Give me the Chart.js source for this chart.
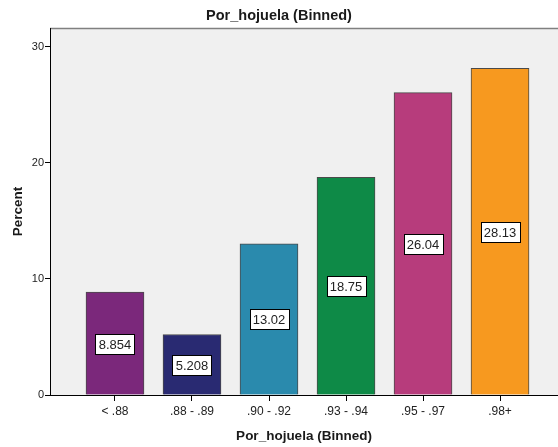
<!DOCTYPE html>
<html>
<head>
<meta charset="utf-8">
<script src="https://cdn.jsdelivr.net/npm/chart.js@4/dist/chart.umd.min.js"></script>
<style>
  html, body { margin: 0; padding: 0; background: #fff; }
  #wrap { width: 558px; height: 447px; }
</style>
</head>
<body>
<div id="wrap"><canvas id="chart"></canvas></div>
<script>
// Por_hojuela binned percentages
const categories = ['< .88', '.88 - .89', '.90 - .92', '.93 - .94', '.95 - .97', '.98+'];
const percents = [8.854, 5.208, 13.02, 18.75, 26.04, 28.13];
const barColors = ['#7b287b', '#292a72', '#2a8aad', '#0e8a47', '#b73c7c', '#f7991f'];
const yTicks = [0, 10, 20, 30];

const FONT = 'Arial, "Liberation Sans", sans-serif';

// plot background + top frame line
const plotBg = {
    id: 'plotBg',
    beforeDraw(chart) {
        const { ctx, chartArea: a } = chart;
        ctx.save();
        ctx.fillStyle = '#f0f0f0';
        ctx.fillRect(a.left, a.top, a.right - a.left, a.bottom - a.top);
        ctx.strokeStyle = '#808080';
        ctx.lineWidth = 1.5;
        ctx.beginPath();
        ctx.moveTo(a.left, a.top + 0.5);
        ctx.lineTo(a.right, a.top + 0.5);
        ctx.stroke();
        ctx.restore();
    }
};

// boxed value labels in the middle of each bar
const valueBoxes = {
    id: 'valueBoxes',
    afterDatasetsDraw(chart) {
        const { ctx } = chart;
        const yScale = chart.scales.y;
        const meta = chart.getDatasetMeta(0);
        ctx.save();
        ctx.font = '13px ' + FONT;
        ctx.textAlign = 'center';
        ctx.textBaseline = 'middle';
        meta.data.forEach((bar, i) => {
            const v = percents[i];
            const txt = v.toPrecision(4);
            const cy = Math.round(yScale.getPixelForValue(v / 2));
            const w = Math.round(ctx.measureText(txt).width) + 6;
            const h = 20;
            const x0 = Math.round(bar.x - w / 2) + 0.5;
            const y0 = cy - h / 2 + 0.5;
            ctx.fillStyle = '#fff';
            ctx.fillRect(x0, y0, w, h);
            ctx.strokeStyle = '#000';
            ctx.lineWidth = 1;
            ctx.strokeRect(x0, y0, w, h);
            ctx.fillStyle = '#222';
            ctx.fillText(txt, bar.x, cy + 1);
        });
        ctx.restore();
    }
};

new Chart(document.getElementById('chart'), {
    type: 'bar',
    data: {
        datasets: [{
            data: percents.map((v, i) => ({ x: i, y: v })),
            backgroundColor: barColors,
            borderColor: '#4a4a4a',
            borderWidth: 1,
            barThickness: 58
        }]
    },
    options: {
        responsive: true,
        maintainAspectRatio: false,
        animation: false,
        events: [],
        layout: { padding: { left: 0, right: 0, top: 0, bottom: 0 } },
        plugins: {
            legend: { display: false },
            tooltip: { enabled: false },
            title: {
                display: true,
                text: 'Por_hojuela (Binned)',
                color: '#1a1a1a',
                font: { family: FONT, size: 14.5, weight: 'bold' },
                padding: { top: 7.6, bottom: 3 }
            }
        },
        scales: {
            x: {
                type: 'linear',
                offset: false,
                min: -0.844,
                max: 5.753,
                afterBuildTicks(scale) {
                    scale.ticks = categories.map((c, i) => ({ value: i }));
                },
                afterFit(scale) { scale.height = 52; },
                grid: { offset: false, drawOnChartArea: false, drawTicks: true, tickLength: 6, tickColor: '#000' },
                border: { display: true, color: '#000', width: 1 },
                ticks: {
                    autoSkip: false,
                    maxRotation: 0,
                    padding: 3,
                    color: '#222',
                    font: { family: FONT, size: 12 },
                    callback: (v) => categories[v]
                },
                title: {
                    display: true,
                    text: 'Por_hojuela (Binned)',
                    color: '#1a1a1a',
                    font: { family: FONT, size: 13.5, weight: 'bold' },
                    padding: { top: 0, bottom: 3 }
                }
            },
            y: {
                min: 0,
                max: 31.6,
                afterBuildTicks(scale) {
                    scale.ticks = yTicks.map(v => ({ value: v }));
                },
                afterFit(scale) { scale.width = 50; },
                grid: { drawOnChartArea: false, drawTicks: true, tickLength: 5, tickColor: '#000' },
                border: { display: true, color: '#000', width: 1 },
                ticks: {
                    padding: 1,
                    color: '#222',
                    font: { family: FONT, size: 11 }
                },
                title: {
                    display: true,
                    text: 'Percent',
                    color: '#1a1a1a',
                    font: { family: FONT, size: 13.5, weight: 'bold' },
                    padding: { top: 10, bottom: 0 }
                }
            }
        }
    },
    plugins: [plotBg, valueBoxes]
});
</script>
</body>
</html>
